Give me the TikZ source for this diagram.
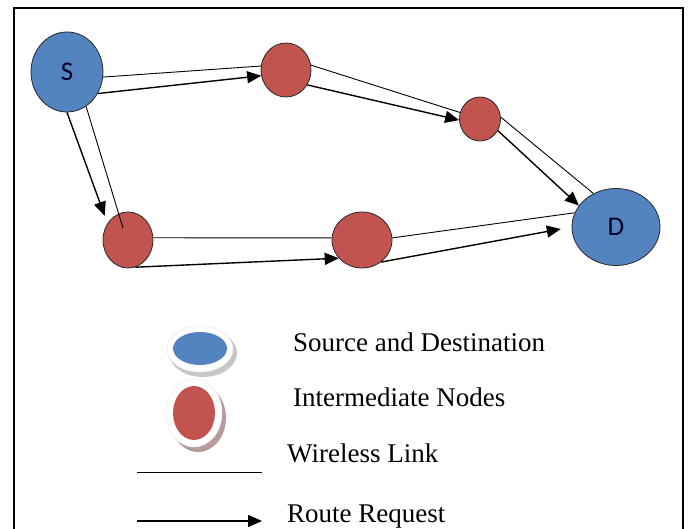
\documentclass[tikz,border=0pt]{standalone}
\usepackage{fontspec}
\setmainfont{Liberation Serif}
\newfontfamily\lblfont{Carlito}
\usetikzlibrary{arrows.meta,shapes.geometric,calc}
\definecolor{nblue}{RGB}{84,132,192}
\definecolor{nred}{RGB}{194,84,80}
\definecolor{nedge}{RGB}{40,40,40}
\newcommand{\lblsize}{\lblfont\fontsize{27}{30}\selectfont}
\newcommand{\legsize}{\fontsize{27}{30}\selectfont}
\tikzset{
  bnode/.style={ellipse,draw=nedge,line width=0.8pt,fill=nblue,inner sep=0pt,text=black!85!blue},
  rnode/.style={ellipse,draw=nedge,line width=0.8pt,fill=nred,inner sep=0pt},
  link/.style={line width=0.9pt,black},
  rreq/.style={line width=1.4pt,black,-{Triangle[length=14pt,width=12pt]}},
  legtext/.style={anchor=base west,inner sep=0pt}
}
\begin{document}
\begin{tikzpicture}[x=1pt,y=-1pt]
\useasboundingbox (0,0) rectangle (689,529);
\clip (0,0) rectangle (689,529);
\fill[white] (0,0) rectangle (689,529);
\draw[line width=2pt] (14,8) rectangle (683,560);

% nodes
\node[bnode,minimum width=72pt,minimum height=80pt] (S) at (67,72) {\lblsize S};
\node[rnode,minimum width=50pt,minimum height=54pt] (A) at (286,70) {};
\node[rnode,minimum width=41pt,minimum height=44pt] (C) at (480,119) {};
\node[bnode,minimum width=88pt,minimum height=77pt] (D) at (616,227) {\lblsize D};
\node[rnode,minimum width=50pt,minimum height=56pt] (B) at (128,240) {};
\node[rnode,minimum width=60pt,minimum height=56pt] (E) at (362,240) {};

% wireless links
\draw[link] (S.-8) -- (A.171);
\draw[link] (A.11) -- (C.162);
\draw[link] (C.5) -- (D.124);
\draw[link] (S.-61) -- ($(B.center)+(-5,-12)$);
\draw[link] (B.5) -- (E.176);
\draw[link] (E.4) -- (D.161);

% route requests
\draw[rreq] (S.-35) -- (A.-167);
\draw[rreq] (A.-35) -- (C.-177);
\draw[rreq] (C.-33) -- (D.150);
\draw[rreq,shorten >=8pt] (S.-90) -- (B.141);
\draw[rreq] (B.-75) -- (E.-142);
\draw[rreq,shorten >=11pt] (E.-49) -- (D.180);

% legend
\fill[gray!45] (203,353) ellipse [x radius=34, y radius=24];
\draw[white!85!gray,fill=white,line width=0.6pt] (200,349) ellipse [x radius=33, y radius=23];
\node[ellipse,fill=nblue,minimum width=54pt,minimum height=33pt,inner sep=0pt] (lb) at (200,348.5) {};
\node[legtext] (t1) at (293,352) {\legsize Source and Destination};

\fill[nred!35!gray!70] (198,418) ellipse [x radius=28, y radius=34];
\draw[white!85!gray,fill=white,line width=0.6pt] (194,413) ellipse [x radius=28, y radius=34];
\node[ellipse,fill=nred,minimum width=42pt,minimum height=54pt,inner sep=0pt] (lr) at (194,413) {};
\node[legtext] (t2) at (293,407) {\legsize Intermediate Nodes};

\coordinate (wa) at (137,472);
\coordinate (wb) at (262,472);
\draw[link] (wa) -- (wb);
\node[legtext] (t3) at (287,463) {\legsize Wireless Link};

\coordinate (ra) at (137,521);
\coordinate (rb) at (262,521);
\draw[rreq] (ra) -- (rb);
\node[legtext] (t4) at (287,522) {\legsize Route Request};
\end{tikzpicture}
\end{document}
